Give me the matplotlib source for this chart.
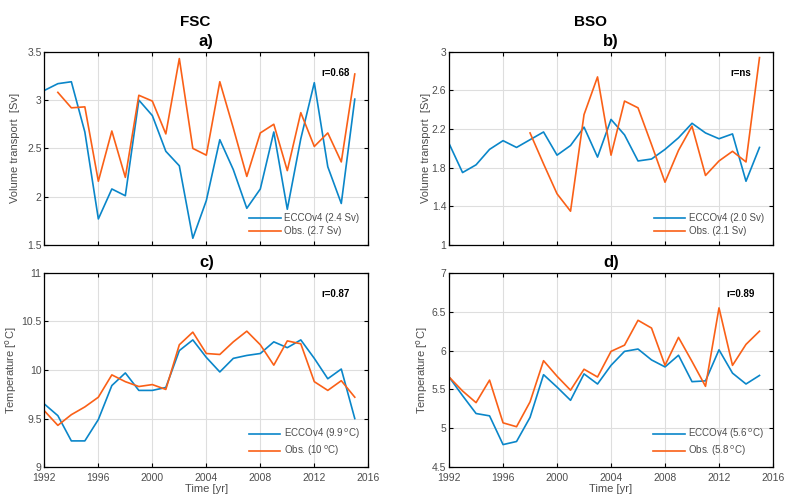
import numpy as np
import matplotlib.pyplot as plt

plt.rcParams['font.family'] = ['Liberation Sans', 'DejaVu Sans']

years = list(range(1992, 2016))

# FSC volume transport [Sv]
fsc_vol_ecco = [3.10, 3.17, 3.19, 2.67, 1.77, 2.08, 2.01, 3.00, 2.84, 2.47, 2.32, 1.57,
                1.96, 2.59, 2.28, 1.88, 2.08, 2.67, 1.87, 2.60, 3.18, 2.31, 1.93, 3.01]
fsc_vol_obs = [np.nan, 3.08, 2.92, 2.93, 2.16, 2.68, 2.20, 3.05, 2.99, 2.65, 3.43, 2.50,
               2.43, 3.19, 2.71, 2.21, 2.66, 2.75, 2.27, 2.87, 2.52, 2.66, 2.36, 3.27]

# BSO volume transport [Sv]
bso_vol_ecco = [2.05, 1.75, 1.83, 1.99, 2.08, 2.01, 2.09, 2.17, 1.93, 2.03, 2.22, 1.91,
                2.30, 2.14, 1.87, 1.89, 1.99, 2.11, 2.26, 2.16, 2.10, 2.15, 1.66, 2.01]
bso_vol_obs = [np.nan] * 6 + [2.16, 1.84, 1.53, 1.35, 2.35, 2.74, 1.93, 2.49, 2.42,
                              2.04, 1.65, 1.98, 2.23, 1.72, 1.87, 1.97, 1.86, 2.94]

# FSC temperature [degC]
fsc_t_ecco = [9.65, 9.53, 9.27, 9.27, 9.49, 9.84, 9.97, 9.79, 9.79, 9.82, 10.20, 10.31,
              10.13, 9.98, 10.12, 10.15, 10.17, 10.29, 10.23, 10.31, 10.12, 9.91, 10.01, 9.50]
fsc_t_obs = [9.58, 9.43, 9.54, 9.62, 9.72, 9.95, 9.88, 9.83, 9.85, 9.80, 10.26, 10.39,
             10.17, 10.16, 10.29, 10.40, 10.26, 10.05, 10.30, 10.27, 9.88, 9.79, 9.89, 9.72]

# BSO temperature [degC]
bso_t_ecco = [5.66, 5.42, 5.19, 5.16, 4.79, 4.83, 5.14, 5.69, 5.53, 5.36, 5.70, 5.57,
              5.81, 5.99, 6.02, 5.88, 5.79, 5.94, 5.60, 5.61, 6.01, 5.71, 5.57, 5.68]
bso_t_obs = [5.66, 5.48, 5.33, 5.62, 5.07, 5.02, 5.34, 5.87, 5.67, 5.49, 5.76, 5.66,
             5.99, 6.07, 6.39, 6.29, 5.81, 6.17, 5.86, 5.54, 6.55, 5.81, 6.08, 6.25]

c_ecco = '#0a86c9'
c_obs = '#fa6017'
gray = '#4d4d4d'

fig = plt.figure(figsize=(7.92, 4.98), dpi=100)

panels = [
    # pos, ecco, obs, title, ylim, yticks, ylabel, ylabel x, r, legend labels, bottom row
    ([0.056, 0.508, 0.409, 0.388], fsc_vol_ecco, fsc_vol_obs, 'a)', (1.5, 3.5),
     [1.5, 2, 2.5, 3, 3.5], 'Volume transport  [Sv]', -0.075, 'r=0.68',
     ['ECCOv4 (2.4 Sv)', 'Obs. (2.7 Sv)'], False),
    ([0.567, 0.508, 0.409, 0.388], bso_vol_ecco, bso_vol_obs, 'b)', (1, 3),
     [1, 1.4, 1.8, 2.2, 2.6, 3], 'Volume transport  [Sv]', -0.057, 'r=ns',
     ['ECCOv4 (2.0 Sv)', 'Obs. (2.1 Sv)'], False),
    ([0.056, 0.062, 0.409, 0.39], fsc_t_ecco, fsc_t_obs, 'c)', (9, 11),
     [9, 9.5, 10, 10.5, 11], r'Temperature [$^{\rm o}$C]', -0.078, 'r=0.87',
     [r'ECCOv4 (9.9$\,^{\rm o}$C)', r'Obs. (10$\,^{\rm o}$C)'], True),
    ([0.567, 0.062, 0.409, 0.39], bso_t_ecco, bso_t_obs, 'd)', (4.5, 7),
     [4.5, 5, 5.5, 6, 6.5, 7], r'Temperature [$^{\rm o}$C]', -0.06, 'r=0.89',
     [r'ECCOv4 (5.6$\,^{\rm o}$C)', r'Obs. (5.8$\,^{\rm o}$C)'], True),
]

for pos, ecco, obs, title, ylim, yticks, ylabel, ylx, rtxt, labels, bottom in panels:
    ax = fig.add_axes(pos)
    ax.plot(years, ecco, color=c_ecco, lw=1.2, label=labels[0])
    ax.plot(years, obs, color=c_obs, lw=1.2, label=labels[1])
    ax.set_xlim(1992, 2016)
    ax.set_ylim(*ylim)
    ax.set_xticks(range(1992, 2017, 4))
    ax.set_yticks(yticks)
    ax.set_yticklabels(['%g' % v for v in yticks])
    ax.grid(True, color='#dedede', lw=0.8)
    ax.set_axisbelow(True)
    ax.tick_params(direction='in', top=True, right=True, length=3, width=0.8,
                   labelsize=7.5, labelcolor=gray)
    ax.tick_params(axis='y', pad=2)
    ax.tick_params(axis='x', pad=4)
    for s in ax.spines.values():
        s.set_linewidth(0.9)
    if bottom:
        ax.set_xlabel('Time [yr]', fontsize=8, color=gray, labelpad=1)
    else:
        ax.set_xticklabels([])
    ax.set_ylabel(ylabel, fontsize=8, color=gray)
    ax.yaxis.set_label_coords(ylx, 0.5)
    ax.set_title(title, fontsize=12, fontweight='bold', pad=4)
    ax.text(0.90, 0.89, rtxt, transform=ax.transAxes, fontsize=7, fontweight='bold',
            ha='center', va='center')
    ax.legend(loc='lower right', frameon=False, fontsize=7, handlelength=3.2,
              labelspacing=0.3, borderaxespad=0.5, handletextpad=0.4,
              labelcolor=gray)

fig.text(0.246, 0.955, 'FSC', fontsize=11, fontweight='bold', ha='center', va='center')
fig.text(0.745, 0.955, 'BSO', fontsize=11, fontweight='bold', ha='center', va='center')

fig.savefig('out.png', dpi=100)
